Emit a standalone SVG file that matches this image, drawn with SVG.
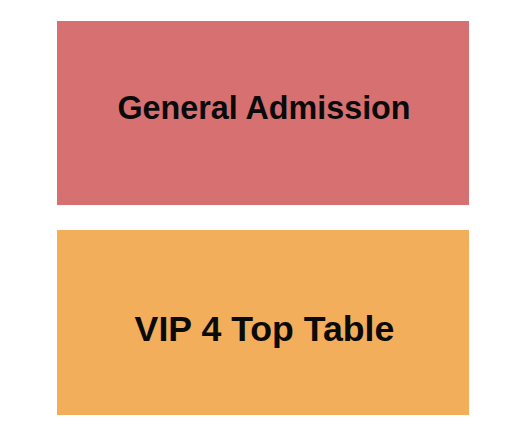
<svg xmlns="http://www.w3.org/2000/svg" width="525" height="444" viewBox="0 0 525 444">
<style>
.lbl{font-family:"Liberation Sans",Arial,sans-serif;font-weight:bold;fill:#0a0a0a;text-anchor:middle}
</style>
<rect width="525" height="444" fill="#fff"/>
<g id="general-admission">
<rect x="57" y="21" width="412" height="184" fill="#D77070"/>
<text class="lbl" x="264" y="119" font-size="32.3">General Admission</text>
</g>
<g id="vip-4-top-table">
<rect x="57" y="230" width="412" height="185" fill="#F3AE5B"/>
<text class="lbl" x="264.5" y="341" font-size="35.7">VIP 4 Top Table</text>
</g>
<g id="connectors"/>
</svg>
